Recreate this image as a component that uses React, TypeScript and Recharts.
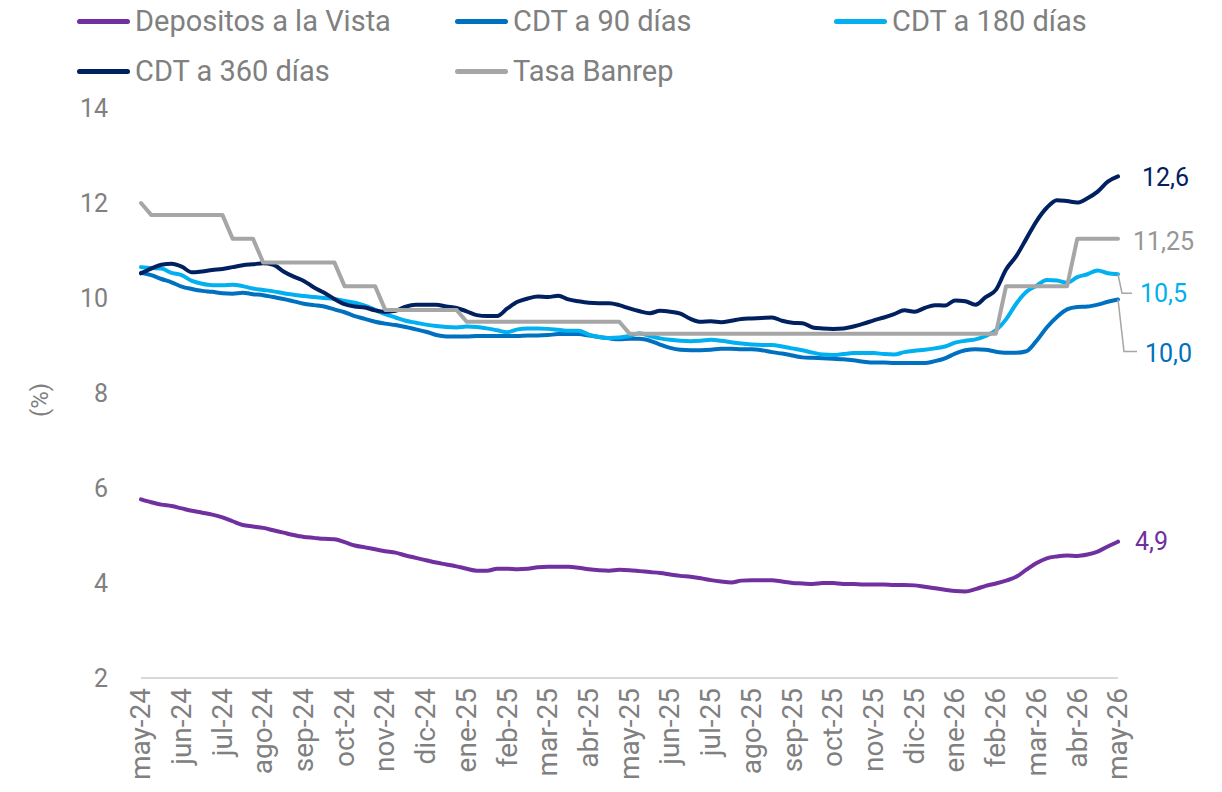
import React from "react";
import { LineChart, Line, XAxis, YAxis } from "recharts";

// month labels on the x axis (one per month, data is weekly: 4 points per month)
const months = [
  "may-24", "jun-24", "jul-24", "ago-24", "sep-24", "oct-24", "nov-24", "dic-24",
  "ene-25", "feb-25", "mar-25", "abr-25", "may-25", "jun-25", "jul-25", "ago-25",
  "sep-25", "oct-25", "nov-25", "dic-25", "ene-26", "feb-26", "mar-26", "abr-26", "may-26",
];

const depositos = [
  5.76, 5.70, 5.65, 5.62, 5.57, 5.52, 5.48, 5.44, 5.38, 5.30, 5.22, 5.19, 5.16, 5.11, 5.06, 5.01,
  4.97, 4.95, 4.93, 4.92, 4.86, 4.79, 4.75, 4.71, 4.67, 4.64, 4.58, 4.53, 4.48, 4.43, 4.39, 4.35,
  4.30, 4.26, 4.26, 4.30, 4.30, 4.29, 4.30, 4.33, 4.34, 4.34, 4.34, 4.32, 4.29, 4.27, 4.26, 4.28,
  4.27, 4.25, 4.23, 4.21, 4.18, 4.15, 4.13, 4.10, 4.06, 4.03, 4.01, 4.05, 4.06, 4.06, 4.06, 4.03,
  4.00, 3.99, 3.98, 4.00, 4.00, 3.98, 3.98, 3.97, 3.97, 3.97, 3.96, 3.96, 3.95, 3.92, 3.89, 3.86,
  3.83, 3.82, 3.87, 3.94, 3.99, 4.05, 4.13, 4.28, 4.42, 4.52, 4.56, 4.58, 4.57, 4.60, 4.66, 4.77,
  4.87,
];

const cdt90 = [
  10.53, 10.48, 10.40, 10.33, 10.24, 10.19, 10.15, 10.13, 10.10, 10.09, 10.11, 10.08, 10.06, 10.02, 9.98, 9.93,
  9.88, 9.85, 9.82, 9.76, 9.70, 9.62, 9.56, 9.50, 9.46, 9.43, 9.39, 9.34, 9.29, 9.22, 9.19, 9.19,
  9.19, 9.20, 9.20, 9.20, 9.20, 9.20, 9.21, 9.21, 9.22, 9.24, 9.24, 9.24, 9.21, 9.18, 9.15, 9.13,
  9.14, 9.14, 9.10, 9.02, 8.95, 8.91, 8.90, 8.90, 8.91, 8.93, 8.93, 8.92, 8.92, 8.90, 8.86, 8.83,
  8.79, 8.75, 8.74, 8.73, 8.72, 8.71, 8.69, 8.66, 8.64, 8.64, 8.63, 8.63, 8.63, 8.63, 8.67, 8.73,
  8.83, 8.90, 8.92, 8.91, 8.87, 8.85, 8.85, 8.88, 9.10, 9.38, 9.60, 9.76, 9.81, 9.82, 9.86, 9.92,
  9.97,
];

const cdt180 = [
  10.65, 10.63, 10.62, 10.53, 10.48, 10.36, 10.30, 10.27, 10.27, 10.28, 10.25, 10.20, 10.17, 10.14, 10.10, 10.07,
  10.04, 10.02, 10.00, 9.98, 9.94, 9.90, 9.84, 9.75, 9.66, 9.59, 9.52, 9.48, 9.44, 9.41, 9.39, 9.38,
  9.40, 9.39, 9.36, 9.32, 9.28, 9.34, 9.36, 9.36, 9.35, 9.33, 9.31, 9.31, 9.23, 9.18, 9.16, 9.17,
  9.20, 9.26, 9.20, 9.15, 9.12, 9.10, 9.09, 9.10, 9.12, 9.10, 9.07, 9.04, 9.02, 9.01, 9.01, 8.98,
  8.94, 8.90, 8.85, 8.81, 8.80, 8.82, 8.84, 8.84, 8.84, 8.82, 8.81, 8.86, 8.89, 8.91, 8.94, 8.98,
  9.06, 9.10, 9.13, 9.20, 9.32, 9.55, 9.88, 10.13, 10.26, 10.38, 10.37, 10.32, 10.44, 10.50, 10.58, 10.52,
  10.50,
];

const cdt360 = [
  10.52, 10.62, 10.70, 10.72, 10.66, 10.54, 10.56, 10.59, 10.61, 10.65, 10.69, 10.71, 10.73, 10.70, 10.56, 10.45,
  10.36, 10.22, 10.11, 9.98, 9.87, 9.82, 9.80, 9.74, 9.71, 9.73, 9.82, 9.86, 9.86, 9.86, 9.82, 9.79,
  9.72, 9.64, 9.62, 9.62, 9.78, 9.92, 9.99, 10.03, 10.02, 10.05, 9.97, 9.93, 9.90, 9.89, 9.89, 9.85,
  9.78, 9.72, 9.68, 9.73, 9.71, 9.67, 9.56, 9.50, 9.51, 9.49, 9.52, 9.56, 9.57, 9.58, 9.59, 9.52,
  9.48, 9.47, 9.38, 9.36, 9.35, 9.36, 9.40, 9.46, 9.53, 9.59, 9.66, 9.74, 9.71, 9.79, 9.85, 9.84,
  9.95, 9.93, 9.86, 10.02, 10.17, 10.60, 10.88, 11.25, 11.62, 11.90, 12.06, 12.04, 12.01, 12.10, 12.24, 12.45,
  12.56,
];

const banrep = [
  12.0, 11.75, 11.75, 11.75, 11.75, 11.75, 11.75, 11.75, 11.75, 11.25, 11.25, 11.25, 10.75, 10.75, 10.75, 10.75,
  10.75, 10.75, 10.75, 10.75, 10.25, 10.25, 10.25, 10.25, 9.75, 9.75, 9.75, 9.75, 9.75, 9.75, 9.75, 9.75,
  9.5, 9.5, 9.5, 9.5, 9.5, 9.5, 9.5, 9.5, 9.5, 9.5, 9.5, 9.5, 9.5, 9.5, 9.5, 9.5,
  9.25, 9.25, 9.25, 9.25, 9.25, 9.25, 9.25, 9.25, 9.25, 9.25, 9.25, 9.25, 9.25, 9.25, 9.25, 9.25,
  9.25, 9.25, 9.25, 9.25, 9.25, 9.25, 9.25, 9.25, 9.25, 9.25, 9.25, 9.25, 9.25, 9.25, 9.25, 9.25,
  9.25, 9.25, 9.25, 9.25, 9.25, 10.25, 10.25, 10.25, 10.25, 10.25, 10.25, 10.25, 11.25, 11.25, 11.25, 11.25,
  11.25,
];

const endLabels = ["4,9", "10,0", "10,5", "12,6", "11,25"];
const yTicks = [2, 4, 6, 8, 10, 12, 14];

const PER_MONTH = 4;
const GREY_TEXT = "#808080";

const series = [
  { key: "depositos", name: "Depositos a la Vista", color: "#7030A0", values: depositos, smooth: true },
  { key: "cdt90", name: "CDT a 90 días", color: "#0070C0", values: cdt90, smooth: true },
  { key: "cdt180", name: "CDT a 180 días", color: "#00B0F0", values: cdt180, smooth: true },
  { key: "cdt360", name: "CDT a 360 días", color: "#002060", values: cdt360, smooth: true },
  { key: "banrep", name: "Tasa Banrep", color: "#A6A6A6", values: banrep, smooth: false },
];

const data = depositos.map((_, i) => {
  const row: any = { w: i };
  series.forEach((s) => (row[s.key] = s.values[i]));
  return row;
});
const lastIndex = data.length - 1;
const monthTicks = months.map((_, i) => i * PER_MONTH);

// where each end label sits relative to the last point (leader lines for the two crowded ones)
const labelStyle: Record<string, { dx: number; dy: number; color: string; leader?: number[] }> = {
  depositos: { dx: 17, dy: -1, color: "#7030A0" },
  cdt90: { dx: 27, dy: 54, color: "#0070C0", leader: [6, 52, 19] },
  cdt180: { dx: 22, dy: 19, color: "#00B0F0", leader: [4, 19, 14] },
  cdt360: { dx: 24, dy: 1, color: "#002060" },
  banrep: { dx: 15, dy: 2, color: "#969696" },
};

const MonthTick = (props: any) => {
  const { x, y, payload } = props;
  return (
    <text
      x={x}
      y={y}
      transform={`rotate(-90, ${x}, ${y})`}
      textAnchor="end"
      dy="0.33em"
      fill={GREY_TEXT}
      fontSize={28}
      fontFamily="Roboto"
    >
      {months[payload.value / PER_MONTH]}
    </text>
  );
};

const makeEndLabel = (key: string, text: string) => (props: any) => {
  const { x, y, index } = props;
  if (index !== lastIndex) return <g />;
  const st = labelStyle[key];
  return (
    <g>
      {st.leader && (
        <polyline
          points={`${x},${y} ${x + st.leader[0]},${y + st.leader[1]} ${x + st.leader[2]},${y + st.leader[1]}`}
          fill="none"
          stroke="#A6A6A6"
          strokeWidth={1.5}
        />
      )}
      <text x={x + st.dx} y={y + st.dy} dy="0.36em" fill={st.color} fontSize={25} fontFamily="Roboto">
        {text}
      </text>
    </g>
  );
};

const legendPos = [
  { left: 77, top: 21 },
  { left: 455, top: 21 },
  { left: 834, top: 21 },
  { left: 77, top: 71 },
  { left: 455, top: 71 },
];

export default function App() {
  return (
    <div
      style={{
        position: "absolute",
        left: 0,
        top: 0,
        width: 1222,
        height: 792,
        background: "#fff",
        fontFamily: "Roboto",
        overflow: "hidden",
      }}
    >
      {series.map((s, i) => (
        <div
          key={s.key}
          style={{
            position: "absolute",
            left: legendPos[i].left,
            top: legendPos[i].top - 20,
            height: 40,
            display: "flex",
            alignItems: "center",
            whiteSpace: "nowrap",
          }}
        >
          <div style={{ width: 53, height: 5, borderRadius: 3, background: s.color }} />
          <span style={{ marginLeft: 5, fontSize: 29, color: GREY_TEXT }}>{s.name}</span>
        </div>
      ))}

      <LineChart width={1222} height={792} data={data} margin={{ top: 108, right: 104, bottom: 0, left: 0 }}>
        <XAxis
          dataKey="w"
          type="number"
          domain={[0, lastIndex]}
          ticks={monthTicks}
          interval={0}
          height={114}
          axisLine={{ stroke: "#D9D9D9", strokeWidth: 2 }}
          tickLine={false}
          tickSize={0}
          tickMargin={10}
          tick={<MonthTick />}
        />
        <YAxis
          domain={[2, 14]}
          ticks={yTicks}
          interval={0}
          width={141}
          axisLine={false}
          tickLine={false}
          tickSize={0}
          tickMargin={33}
          tick={{ fill: GREY_TEXT, fontSize: 25, fontFamily: "Roboto" }}
          label={() => (
            <text
              x={40}
              y={400}
              transform="rotate(-90, 40, 400)"
              textAnchor="middle"
              dy="0.35em"
              fill={GREY_TEXT}
              fontSize={24}
              fontFamily="Roboto"
            >
              (%)
            </text>
          )}
        />
        {series.map((s, i) => (
          <Line
            key={s.key}
            dataKey={s.key}
            name={s.name}
            type={s.smooth ? "monotone" : "linear"}
            stroke={s.color}
            strokeWidth={4}
            strokeLinecap="round"
            strokeLinejoin="round"
            dot={false}
            activeDot={false}
            isAnimationActive={false}
            label={makeEndLabel(s.key, endLabels[i])}
          />
        ))}
      </LineChart>
    </div>
  );
}
